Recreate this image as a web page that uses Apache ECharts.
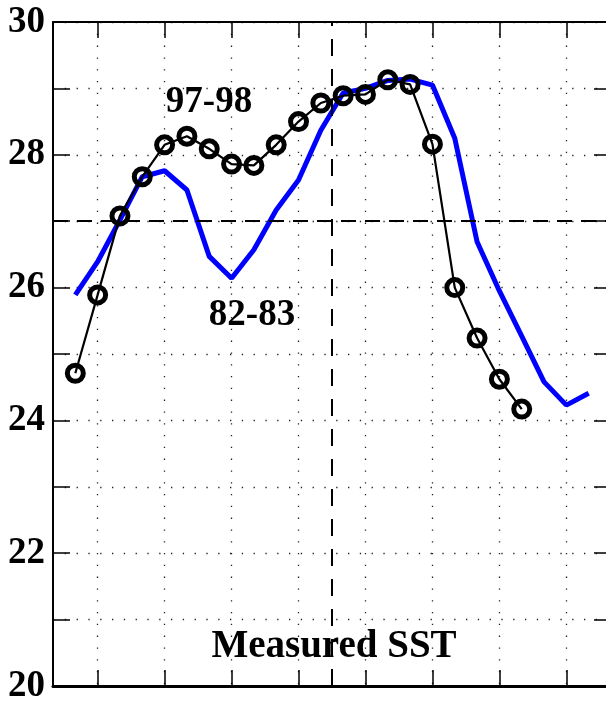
<!DOCTYPE html>
<html lang="en">
<head>
    <meta http-equiv="Content-Type" content="text/html; charset=UTF-8">
    <title>Measured SST</title>
    <script type="text/javascript" src="https://cdn.jsdelivr.net/npm/echarts@6/dist/echarts.min.js"></script>
</head>
<body style="margin:0;width:606px;height:707px;background:#fff">
<div id="main" style="width:606px;height:707px"></div>
<script type="text/javascript">
    // month index along the x axis (0 = left edge)
    var months9798 = [1, 2, 3, 4, 5, 6, 7, 8, 9, 10, 11, 12, 13, 14, 15, 16, 17, 18, 19, 20, 21];
    var sst9798 = [24.71, 25.89, 27.08, 27.67, 28.15, 28.28, 28.09, 27.86, 27.84, 28.15, 28.50,
        28.78, 28.89, 28.91, 29.13, 29.06, 28.16, 26.00, 25.24, 24.62, 24.17];

    var months8283 = [1, 2, 3, 4, 5, 6, 7, 8, 9, 10, 11, 12, 13, 14, 15, 16, 17, 18, 19, 20, 21, 22, 23, 24];
    var sst8283 = [25.89, 26.39, 27.02, 27.67, 27.76, 27.47, 26.47, 26.14, 26.57, 27.17, 27.62, 28.37,
        28.93, 29.00, 29.12, 29.14, 29.05, 28.25, 26.69, 25.95, 25.27, 24.58, 24.23, 24.41];

    var xTicks = [2, 5, 8, 11, 14, 17, 20, 23];
    var yTickLabels = [20, 22, 24, 26, 28, 30];
    var refX = 12.5;
    var refY = 27;

    function pairs(xs, ys) {
        return xs.map(function (x, i) { return [x, ys[i]]; });
    }

    var myChart = echarts.init(document.getElementById('main'));

    var font = '"Liberation Serif", "DejaVu Serif", serif';
    var dotted = { color: '#222', width: 1.3, type: [1.3, 10.5] };
    var tick = { show: true, inside: true, length: 16, customValues: xTicks, lineStyle: { color: '#000', width: 1.5 } };

    myChart.setOption({
        animation: false,
        backgroundColor: '#fff',
        grid: { left: 53, right: -5, top: 22, bottom: 21, containLabel: false, outerBoundsMode: 'none' },
        xAxis: [{
            type: 'value', min: 0, max: 25, position: 'bottom',
            axisLine: { show: true, onZero: false, lineStyle: { color: '#000', width: 3 } },
            axisTick: tick,
            axisLabel: { show: false },
            splitLine: { show: true, lineStyle: dotted }
        }, {
            type: 'value', min: 0, max: 25, position: 'top',
            axisLine: { show: true, onZero: false, lineStyle: { color: '#000', width: 2 } },
            axisTick: tick,
            axisLabel: { show: false },
            splitLine: { show: false }
        }],
        yAxis: [{
            type: 'value', min: 20, max: 30, interval: 1, position: 'left',
            axisLine: { show: true, onZero: false, lineStyle: { color: '#000', width: 2 } },
            axisTick: { show: true, inside: true, length: 17, lineStyle: { color: '#000', width: 1.5 } },
            axisLabel: {
                margin: 8, color: '#000', fontFamily: font, fontWeight: 'bold', fontSize: 37,
                formatter: function (v) { return yTickLabels.indexOf(v) >= 0 ? String(v) : ''; }
            },
            splitLine: { show: true, lineStyle: dotted }
        }, {
            type: 'value', min: 20, max: 30, interval: 1, position: 'right',
            axisLine: { show: true, onZero: false, lineStyle: { color: '#000', width: 2 } },
            axisTick: { show: true, inside: true, length: 17, lineStyle: { color: '#000', width: 1.5 } },
            axisLabel: { show: false },
            splitLine: { show: false }
        }],
        series: [{
            name: '82-83',
            type: 'line',
            data: pairs(months8283, sst8283),
            showSymbol: false,
            symbol: 'none',
            lineStyle: { color: '#0000ff', width: 5 },
            itemStyle: { color: '#0000ff' },
            z: 2,
            markLine: {
                silent: true,
                symbol: 'none',
                label: { show: false },
                data: [
                    { xAxis: refX, lineStyle: { color: '#000', width: 2, type: [17, 13] } },
                    { yAxis: refY, lineStyle: { color: '#000', width: 1.8, type: [15, 9] } }
                ]
            }
        }, {
            name: '97-98',
            type: 'line',
            data: pairs(months9798, sst9798),
            symbol: 'circle',
            symbolSize: 16,
            lineStyle: { color: '#000', width: 2.2 },
            itemStyle: { color: 'rgba(0,0,0,0)', borderColor: '#000', borderWidth: 5 },
            z: 3
        }],
        graphic: [
            { type: 'text', x: 209, y: 102, z: 10, style: { text: '97-98', align: 'center', verticalAlign: 'middle', fill: '#000', font: 'bold 37px ' + font } },
            { type: 'text', x: 252, y: 315, z: 10, style: { text: '82-83', align: 'center', verticalAlign: 'middle', fill: '#000', font: 'bold 37px ' + font } },
            { type: 'text', x: 334, y: 647, z: 10, style: { text: 'Measured SST', align: 'center', verticalAlign: 'middle', fill: '#000', font: 'bold 39px ' + font } }
        ]
    });
</script>
</body>
</html>
